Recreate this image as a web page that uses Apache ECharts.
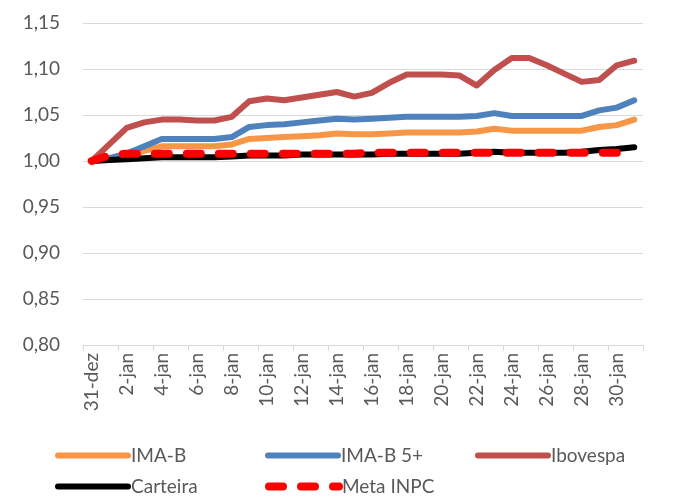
<!DOCTYPE html>
<html>
<head>
<meta charset="utf-8">
<script src="https://cdn.jsdelivr.net/npm/echarts@6/dist/echarts.min.js"></script>
<style>
  html, body { margin: 0; padding: 0; background: #fff; }
  #chart { width: 685px; height: 498px; }
</style>
</head>
<body>
<div id="chart"></div>
<script>
// dias: 31-dez ate 31-jan
const days = ['31-dez']
for (let d = 1; d <= 31; d++) days.push(d + '-jan')

const imaB = [1.000, 1.002, 1.005, 1.011, 1.016, 1.016, 1.016, 1.016, 1.018, 1.024, 1.025, 1.026, 1.027, 1.028, 1.030, 1.029,
  1.029, 1.030, 1.031, 1.031, 1.031, 1.031, 1.032, 1.035, 1.033, 1.033, 1.033, 1.033, 1.033, 1.037, 1.039, 1.045]
const imaB5 = [1.000, 1.003, 1.008, 1.016, 1.024, 1.024, 1.024, 1.024, 1.026, 1.037, 1.039, 1.040, 1.042, 1.044, 1.046, 1.045,
  1.046, 1.047, 1.048, 1.048, 1.048, 1.048, 1.049, 1.052, 1.049, 1.049, 1.049, 1.049, 1.049, 1.055, 1.058, 1.066]
const ibovespa = [1.000, 1.018, 1.036, 1.042, 1.045, 1.045, 1.044, 1.044, 1.048, 1.065, 1.068, 1.066, 1.069, 1.072, 1.075, 1.070,
  1.074, 1.085, 1.094, 1.094, 1.094, 1.093, 1.082, 1.099, 1.112, 1.112, 1.104, 1.095, 1.086, 1.088, 1.104, 1.109]
const carteira = [1.000, 1.001, 1.002, 1.003, 1.004, 1.004, 1.004, 1.004, 1.005, 1.006, 1.006, 1.006, 1.007, 1.007, 1.007, 1.007,
  1.007, 1.008, 1.008, 1.008, 1.008, 1.008, 1.009, 1.010, 1.009, 1.009, 1.009, 1.009, 1.010, 1.012, 1.013, 1.015]
const metaInpc = [1.000, 1.006, 1.008, 1.008, 1.008, 1.008, 1.008, 1.008, 1.008, 1.008, 1.008, 1.008, 1.008, 1.008, 1.008, 1.008,
  1.009, 1.009, 1.009, 1.009, 1.009, 1.009, 1.009, 1.009, 1.009, 1.009, 1.009, 1.009, 1.009, 1.009, 1.009, 1.009]

const FONT = 'Lato'
const TXT = '#595959'
const GRID = '#d9d9d9'

const chart = echarts.init(document.getElementById('chart'))

function line (name, data, color, width, type) {
  return {
    name: name,
    type: 'line',
    data: data,
    symbol: 'none',
    animation: false,
    itemStyle: { color: color },
    lineStyle: { color: color, width: width, type: type || 'solid', cap: 'round', join: 'round' }
  }
}

// legendas posicionadas em colunas como no Excel
function leg (name, left, top, width) {
  return {
    data: [name],
    left: left,
    top: top,
    padding: 0,
    itemWidth: 70,
    itemHeight: 8,
    itemGap: 0,
    selectedMode: false,
    itemStyle: { color: 'transparent', borderColor: 'transparent', borderWidth: 0, opacity: 0 },
    lineStyle: { width: width || 6, cap: 'round' },
    textStyle: { fontFamily: FONT, fontSize: 19, color: TXT, padding: [0, 0, 0, -2] }
  }
}

const option = {
  backgroundColor: '#fff',
  grid: { left: 83, right: 42, top: 23, bottom: 153 },
  legend: [
    leg('IMA-B', 55, 446),
    leg('IMA-B 5+', 265, 446),
    leg('Ibovespa', 475, 446),
    leg('Carteira', 55, 477),
    leg('Meta INPC', 265, 477, 8)
  ],
  xAxis: {
    type: 'category',
    data: days,
    boundaryGap: true,
    axisLine: { lineStyle: { color: GRID, width: 1 } },
    axisTick: { show: true, interval: 1, length: 6, lineStyle: { color: GRID } },
    axisLabel: { interval: 1, rotate: 90, margin: 8, fontFamily: FONT, fontSize: 19, color: TXT }
  },
  yAxis: {
    type: 'value',
    min: 0.8,
    max: 1.15,
    interval: 0.05,
    axisLine: { show: false },
    axisTick: { show: false },
    splitLine: { lineStyle: { color: GRID, width: 1 } },
    axisLabel: {
      margin: 23,
      fontFamily: FONT,
      fontSize: 19,
      color: TXT,
      formatter: v => v.toFixed(2).replace('.', ',')
    }
  },
  series: [
    line('IMA-B', imaB, '#F79646', 6),
    line('IMA-B 5+', imaB5, '#4F81BD', 6),
    line('Ibovespa', ibovespa, '#C0504D', 6),
    line('Carteira', carteira, '#000000', 6),
    line('Meta INPC', metaInpc, '#FF0000', 8, [14, 18])
  ]
}

chart.setOption(option)
</script>
</body>
</html>
